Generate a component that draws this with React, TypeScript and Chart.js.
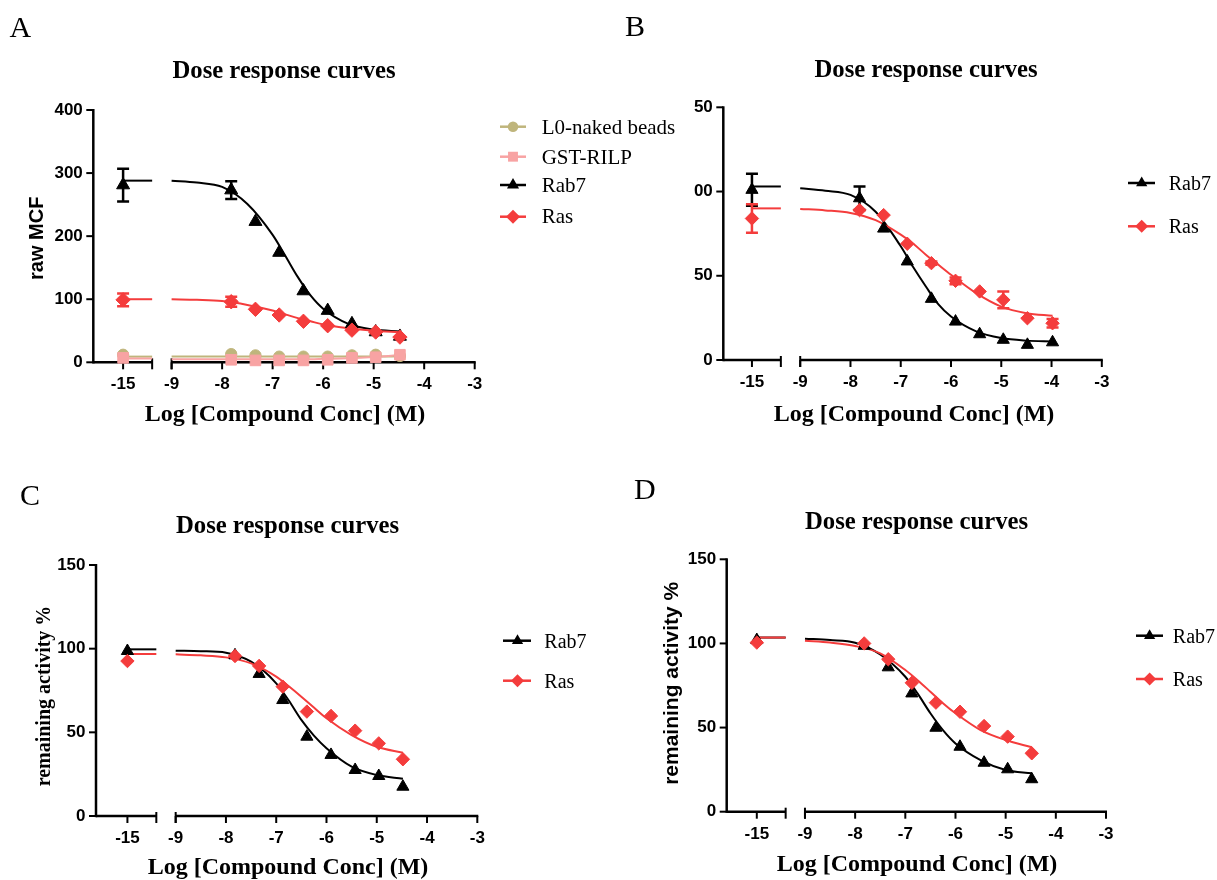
import React, { useEffect, useRef } from 'react';
import { Chart, registerables } from 'chart.js';

Chart.register(...registerables);

const W = 1217;
const H = 880;
const SERIF = '"Liberation Serif", "Times New Roman", serif';
const SANS = '"Liberation Sans", Arial, sans-serif';

const RED = '#f43c3c';
const BLACK = '#000000';
const OLIVE = '#bfb57c';
const PINK = '#f8a3a3';

// ---- shared axis data ----
const X_TICKS = [-15, -9, -8, -7, -6, -5, -4, -3];
const BREAK_POS = -9.96; // where the "-15" control sits on the broken axis
const SEG_END = -9.385; // end of the first axis segment

// log [compound] (M); -15 = no compound control
const X_LOG_9 = [-15, -7.82, -7.34, -6.87, -6.39, -5.91, -5.43, -4.96, -4.48];
const X_LOG_10 = [-15, -7.82, -7.34, -6.87, -6.39, -5.91, -5.43, -4.96, -4.48, -3.98];
const FIT_X = [-9, -8.5, -8, -7.5, -7, -6.75, -6.5, -6.25, -6, -5.5, -5, -4.48];
const FIT_X_B = [-9, -8.5, -8, -7.5, -7, -6.75, -6.5, -6.25, -6, -5.5, -5, -4.5, -3.98];

// ---- Panel A : raw MCF ----
const L0_A = [12, 13, 11, 9, 9, 9, 11, 12, 10];
const GST_A = [7, 4, 3, 3, 3, 4, 7, 8, 12];
const RAB7_A = [281, 273, 223, 174, 113, 82, 61, 48, 41];
const RAB7_A_ERR = [26, 14, 0, 0, 0, 0, 0, 0, 0];
const RAS_A = [99, 96, 84, 75, 65, 58, 51, 48, 40];
const RAS_A_ERR = [10, 8, 0, 0, 0, 0, 0, 0, 0];
const L0_FIT_A = [9, 9, 9, 9, 9, 9, 9, 9, 9, 9, 9, 9.5];
const GST_FIT_A = [5, 5, 5, 5, 5, 5, 5, 5, 5.5, 6.5, 8.5, 11.5];
const RAB7_FIT_A = [288, 285, 278, 251, 202, 169, 135, 106, 85, 61, 52, 49];
const RAS_FIT_A = [100, 99, 97, 91, 82, 76, 70, 65, 60, 54, 50, 47.5];
const FLAT_A = { l0: 9, gst: 6, rab7: 288, ras: 100 };

// ---- Panel B ----
const RAB7_B = [101, 96, 78, 58.5, 36.3, 22.8, 15.3, 12, 9, 10.5];
const RAB7_B_ERR = [9.5, 7, 0, 0, 0, 0, 0, 0, 0, 0];
const RAS_B = [84, 89, 86, 69, 57.5, 47, 40.7, 35.7, 24.8, 21.8];
const RAS_B_ERR = [8.5, 0, 0, 0, 1, 2, 0, 5, 0, 2.5];
const RAB7_FIT_B = [102, 100.5, 98, 88, 67.5, 55, 43.6, 33, 25.8, 17, 13, 11.5, 11];
const RAS_FIT_B = [89.7, 88.8, 87.3, 83, 74.4, 69, 62.5, 56.5, 50.6, 39.7, 31.7, 27.8, 26.2];
const FLAT_B = { rab7: 103, ras: 90 };
const Y_LABELS_B = ['0', '50', '00', '50'];

// ---- Panel C ----
const RAB7_C = [98.6, 96, 84.9, 69.3, 47.4, 36.5, 27.5, 23.9, 17.5];
const RAS_C = [92.6, 95.6, 89.7, 77.3, 62.4, 59.8, 51, 43.4, 33.9];
const RAB7_FIT_C = [98.8, 98.5, 97.6, 92.2, 79.3, 69, 57.4, 48, 40.5, 29.5, 24.5, 22.3];
const RAS_FIT_C = [96.6, 96, 94.8, 91.2, 83.3, 77.5, 71.3, 64.8, 58.4, 48.4, 41.4, 37.8];
const FLAT_C = { rab7: 99.6, ras: 96.8 };

// ---- Panel D ----
const RAB7_D = [102, 98.6, 85.8, 70.3, 49.9, 38.6, 29.1, 25.2, 19.3];
const RAS_D = [100.5, 100, 90.6, 76.6, 64.8, 59.4, 50.9, 44.6, 34.7];
const RAB7_FIT_D = [102.8, 102, 100.4, 93.4, 80.2, 70, 58.5, 48.5, 40.6, 30.7, 24.8, 22.8];
const RAS_FIT_D = [101.6, 100.5, 98.5, 94.1, 84.2, 78, 71.3, 64.5, 58.5, 48.5, 42.6, 38.3];
const FLAT_D = { rab7: 103.5, ras: 103.5 };

const TITLE = 'Dose response curves';
const X_TITLE = 'Log [Compound Conc] (M)';

const toAxis = (x: number) => (x === -15 ? BREAK_POS : x);

type Marker = 'triangle' | 'rectRot' | 'circle' | 'rect';
interface Series {
  label: string;
  color: string;
  marker: Marker;
  x: number[];
  y: number[];
  err?: number[];
  fitX: number[];
  fit: number[];
  flat: number;
}
interface Panel {
  letter: string;
  letterPos: [number, number];
  axisX: number;
  right: number;
  top: number;
  bottom: number;
  xMin: number;
  yMax: number;
  yStep: number;
  yTickLabels?: string[];
  titlePos: [number, number];
  xTitlePos: [number, number];
  yTitle?: { text: string; x: number; y: number; font: string };
  legend: { x1: number; x2: number; mx: number; tx: number; rows: number[]; baselines: number[]; font: string };
  markerR: number;
  series: Series[];
}

const PANELS: Panel[] = [
  {
    letter: 'A', letterPos: [9.6, 36.6], axisX: 93.3, right: 474.7, top: 110, bottom: 362.3,
    xMin: -10.55, yMax: 400, yStep: 100,
    titlePos: [284, 78], xTitlePos: [285, 420.6],
    yTitle: { text: 'raw MCF', x: 43.3, y: 238.3, font: `bold 20px ${SANS}` },
    legend: { x1: 500, x2: 526, mx: 513, tx: 541.7, rows: [126.7, 156.7, 185, 216.7], baselines: [134, 164, 191.7, 223.3], font: `21px ${SERIF}` },
    markerR: 7.5,
    series: [
      { label: 'L0-naked beads', color: OLIVE, marker: 'circle', x: X_LOG_9, y: L0_A, fitX: FIT_X, fit: L0_FIT_A, flat: FLAT_A.l0 },
      { label: 'GST-RILP', color: PINK, marker: 'rect', x: X_LOG_9, y: GST_A, fitX: FIT_X, fit: GST_FIT_A, flat: FLAT_A.gst },
      { label: 'Rab7', color: BLACK, marker: 'triangle', x: X_LOG_9, y: RAB7_A, err: RAB7_A_ERR, fitX: FIT_X, fit: RAB7_FIT_A, flat: FLAT_A.rab7 },
      { label: 'Ras', color: RED, marker: 'rectRot', x: X_LOG_9, y: RAS_A, err: RAS_A_ERR, fitX: FIT_X, fit: RAS_FIT_A, flat: FLAT_A.ras },
    ],
  },
  {
    letter: 'B', letterPos: [625, 36], axisX: 723.3, right: 1101.8, top: 107.3, bottom: 360,
    xMin: -10.53, yMax: 150, yStep: 50, yTickLabels: Y_LABELS_B,
    titlePos: [926, 77], xTitlePos: [914, 421],
    legend: { x1: 1128, x2: 1155, mx: 1141.7, tx: 1168.7, rows: [183, 226.3], baselines: [190, 233.3], font: `20px ${SERIF}` },
    markerR: 7,
    series: [
      { label: 'Rab7', color: BLACK, marker: 'triangle', x: X_LOG_10, y: RAB7_B, err: RAB7_B_ERR, fitX: FIT_X_B, fit: RAB7_FIT_B, flat: FLAT_B.rab7 },
      { label: 'Ras', color: RED, marker: 'rectRot', x: X_LOG_10, y: RAS_B, err: RAS_B_ERR, fitX: FIT_X_B, fit: RAS_FIT_B, flat: FLAT_B.ras },
    ],
  },
  {
    letter: 'C', letterPos: [20, 505], axisX: 96, right: 477.3, top: 565, bottom: 816,
    xMin: -10.585, yMax: 150, yStep: 50,
    titlePos: [287.5, 533], xTitlePos: [288, 874],
    yTitle: { text: 'remaining activity %', x: 49.5, y: 696, font: `bold 20px ${SERIF}` },
    legend: { x1: 503, x2: 531, mx: 517.5, tx: 544.3, rows: [640.7, 680.7], baselines: [647.7, 687.7], font: `20px ${SERIF}` },
    markerR: 7,
    series: [
      { label: 'Rab7', color: BLACK, marker: 'triangle', x: X_LOG_9, y: RAB7_C, fitX: FIT_X, fit: RAB7_FIT_C, flat: FLAT_C.rab7 },
      { label: 'Ras', color: RED, marker: 'rectRot', x: X_LOG_9, y: RAS_C, fitX: FIT_X, fit: RAS_FIT_C, flat: FLAT_C.ras },
    ],
  },
  {
    letter: 'D', letterPos: [634, 499], axisX: 726.7, right: 1106, top: 559.3, bottom: 811.7,
    xMin: -10.56, yMax: 150, yStep: 50,
    titlePos: [916.5, 529], xTitlePos: [917, 870.7],
    yTitle: { text: 'remaining activity %', x: 678, y: 683.3, font: `bold 21px ${SANS}` },
    legend: { x1: 1136, x2: 1163, mx: 1149.6, tx: 1172.8, rows: [635.7, 679], baselines: [642.7, 686], font: `20px ${SERIF}` },
    markerR: 7,
    series: [
      { label: 'Rab7', color: BLACK, marker: 'triangle', x: X_LOG_9, y: RAB7_D, fitX: FIT_X, fit: RAB7_FIT_D, flat: FLAT_D.rab7 },
      { label: 'Ras', color: RED, marker: 'rectRot', x: X_LOG_9, y: RAS_D, fitX: FIT_X, fit: RAS_FIT_D, flat: FLAT_D.ras },
    ],
  },
];

function drawMarker(ctx: CanvasRenderingContext2D, m: Marker, x: number, y: number, r: number, color: string) {
  ctx.save();
  ctx.fillStyle = color;
  ctx.beginPath();
  if (m === 'triangle') {
    ctx.moveTo(x, y - r);
    ctx.lineTo(x + 0.866 * r, y + 0.5 * r);
    ctx.lineTo(x - 0.866 * r, y + 0.5 * r);
  } else if (m === 'rectRot') {
    ctx.moveTo(x - r, y);
    ctx.lineTo(x, y - r);
    ctx.lineTo(x + r, y);
    ctx.lineTo(x, y + r);
  } else if (m === 'circle') {
    ctx.arc(x, y, r * 0.75, 0, Math.PI * 2);
  } else {
    const s = r * Math.SQRT1_2;
    ctx.rect(x - s, y - s, 2 * s, 2 * s);
  }
  ctx.closePath();
  ctx.fill();
  ctx.restore();
}

function makeChart(canvas: HTMLCanvasElement, p: Panel) {
  const N = p.series.length;
  const datasets: any[] = [];
  p.series.forEach((s, i) => {
    datasets.push({
      label: s.label,
      data: s.x.map((xv, k) => ({ x: toAxis(xv), y: s.y[k] })),
      showLine: false,
      pointStyle: s.marker,
      pointRadius: s.marker === 'circle' ? p.markerR * 0.75 : s.marker === 'rectRot' ? p.markerR - 0.3 : p.markerR,
      pointBackgroundColor: s.color,
      pointBorderColor: s.color,
      pointBorderWidth: 1,
      clip: false,
      order: N - i,
    });
    datasets.push({
      label: s.label + ' fit',
      data: s.fitX.map((xv, k) => ({ x: xv, y: s.fit[k] })),
      showLine: true,
      borderColor: s.color,
      borderWidth: 2,
      pointRadius: 0,
      cubicInterpolationMode: 'monotone',
      clip: false,
      order: 100 + N - i,
    });
    datasets.push({
      label: s.label + ' control',
      data: [
        { x: BREAK_POS, y: s.flat },
        { x: SEG_END, y: s.flat },
      ],
      showLine: true,
      borderColor: s.color,
      borderWidth: 2,
      pointRadius: 0,
      clip: false,
      order: 100 + N - i,
    });
  });

  const yTicks: number[] = [];
  for (let v = 0; v <= p.yMax + 1e-9; v += p.yStep) yTicks.push(v);

  const decor = {
    id: 'decor' + p.letter,
    beforeDatasetsDraw(chart: any) {
      const ctx: CanvasRenderingContext2D = chart.ctx;
      const xs = chart.scales.x;
      const ys = chart.scales.y;
      const xL = chart.chartArea.left;
      const y0 = ys.getPixelForValue(0);
      const yTop = ys.getPixelForValue(p.yMax);
      ctx.save();
      ctx.strokeStyle = '#000';
      ctx.lineCap = 'butt';
      ctx.lineWidth = 2.5;
      ctx.beginPath();
      ctx.moveTo(xL, yTop - 1);
      ctx.lineTo(xL, y0 + 1.2);
      ctx.stroke();
      ctx.lineWidth = 2;
      for (const v of yTicks) {
        const py = ys.getPixelForValue(v);
        ctx.beginPath();
        ctx.moveTo(xL - 7, py);
        ctx.lineTo(xL, py);
        ctx.stroke();
      }
      ctx.lineWidth = 2.5;
      const pEnd = xs.getPixelForValue(SEG_END);
      const p9 = xs.getPixelForValue(-9);
      const p3 = xs.getPixelForValue(-3);
      ctx.beginPath();
      ctx.moveTo(xL, y0);
      ctx.lineTo(pEnd, y0);
      ctx.moveTo(p9, y0);
      ctx.lineTo(p3 + 1, y0);
      ctx.stroke();
      ctx.lineWidth = 2;
      for (const t of X_TICKS) {
        const px = xs.getPixelForValue(toAxis(t));
        ctx.beginPath();
        ctx.moveTo(px, y0);
        ctx.lineTo(px, y0 + 7);
        ctx.stroke();
      }
      for (const px of [pEnd, p9]) {
        ctx.beginPath();
        ctx.moveTo(px, y0 - 4);
        ctx.lineTo(px, y0 + 7);
        ctx.stroke();
      }
      // error bars
      for (const s of p.series) {
        if (!s.err) continue;
        ctx.strokeStyle = s.color;
        ctx.lineWidth = 2.5;
        s.err.forEach((e, k) => {
          if (!e) return;
          const px = xs.getPixelForValue(toAxis(s.x[k]));
          const pt = ys.getPixelForValue(s.y[k] + e);
          const pb = ys.getPixelForValue(s.y[k] - e);
          ctx.beginPath();
          ctx.moveTo(px, pt);
          ctx.lineTo(px, pb);
          ctx.moveTo(px - 6, pt);
          ctx.lineTo(px + 6, pt);
          ctx.moveTo(px - 6, pb);
          ctx.lineTo(px + 6, pb);
          ctx.stroke();
        });
      }
      ctx.restore();
    },
    afterDraw(chart: any) {
      const ctx: CanvasRenderingContext2D = chart.ctx;
      ctx.save();
      ctx.fillStyle = '#000';
      // panel letter
      ctx.font = `30px ${SERIF}`;
      ctx.textAlign = 'left';
      ctx.textBaseline = 'alphabetic';
      ctx.fillText(p.letter, p.letterPos[0], p.letterPos[1]);
      // title
      ctx.font = `bold 24.7px ${SERIF}`;
      ctx.textAlign = 'center';
      ctx.fillText(TITLE, p.titlePos[0], p.titlePos[1]);
      // x title
      ctx.font = `bold 24px ${SERIF}`;
      ctx.fillText(X_TITLE, p.xTitlePos[0], p.xTitlePos[1]);
      // y title
      if (p.yTitle) {
        ctx.save();
        ctx.translate(p.yTitle.x, p.yTitle.y);
        ctx.rotate(-Math.PI / 2);
        ctx.font = p.yTitle.font;
        ctx.textAlign = 'center';
        ctx.fillText(p.yTitle.text, 0, 0);
        ctx.restore();
      }
      // legend
      const L = p.legend;
      p.series.forEach((s, i) => {
        const ry = L.rows[i];
        ctx.strokeStyle = s.color;
        ctx.lineWidth = 2.5;
        ctx.beginPath();
        ctx.moveTo(L.x1, ry);
        ctx.lineTo(L.x2, ry);
        ctx.stroke();
        drawMarker(ctx, s.marker, L.mx, ry, p.markerR - 0.5, s.color);
        ctx.fillStyle = '#000';
        ctx.font = L.font;
        ctx.textAlign = 'left';
        ctx.textBaseline = 'alphabetic';
        ctx.fillText(s.label, L.tx, L.baselines[i]);
      });
      ctx.restore();
    },
  };

  const tickFont = { family: SANS, size: 17, weight: 'bold' as const };

  return new Chart(canvas, {
    type: 'scatter',
    data: { datasets },
    options: {
      animation: false,
      responsive: false,
      devicePixelRatio: 1,
      events: [],
      layout: {
        autoPadding: false,
        padding: { left: 0, top: p.top, right: W - p.right, bottom: H - p.bottom - 40 },
      },
      plugins: {
        legend: { display: false },
        tooltip: { enabled: false },
        title: { display: false },
      },
      scales: {
        x: {
          type: 'linear',
          min: p.xMin,
          max: -3,
          grid: { display: false, drawTicks: false },
          border: { display: false },
          afterBuildTicks: (scale: any) => {
            scale.ticks = X_TICKS.map((t) => ({ value: toAxis(t) }));
          },
          afterFit: (scale: any) => {
            scale.height = 40;
            scale.paddingLeft = 0;
            scale.paddingRight = 0;
          },
          ticks: {
            autoSkip: false,
            maxRotation: 0,
            minRotation: 0,
            padding: 12,
            color: '#000',
            font: tickFont,
            callback: (_v: any, i: number) => String(X_TICKS[i]),
          },
        },
        y: {
          type: 'linear',
          min: 0,
          max: p.yMax,
          grid: { display: false, drawTicks: false },
          border: { display: false },
          afterBuildTicks: (scale: any) => {
            scale.ticks = yTicks.map((v) => ({ value: v }));
          },
          afterFit: (scale: any) => {
            scale.width = p.axisX;
            scale.paddingTop = 0;
            scale.paddingBottom = 0;
          },
          ticks: {
            padding: 10.5,
            color: '#000',
            font: tickFont,
            callback: (v: any, i: number) => (p.yTickLabels ? p.yTickLabels[i] : String(v)),
          },
        },
      },
    } as any,
    plugins: [decor],
  });
}

export default function App() {
  const r0 = useRef<HTMLCanvasElement>(null);
  const r1 = useRef<HTMLCanvasElement>(null);
  const r2 = useRef<HTMLCanvasElement>(null);
  const r3 = useRef<HTMLCanvasElement>(null);
  const refs = [r0, r1, r2, r3];

  useEffect(() => {
    const charts = PANELS.map((p, i) => makeChart(refs[i].current as HTMLCanvasElement, p));
    return () => charts.forEach((c) => c.destroy());
  }, []);

  return (
    <div style={{ position: 'absolute', left: 0, top: 0, width: W, height: H, background: '#fff', overflow: 'hidden' }}>
      {PANELS.map((p, i) => (
        <canvas
          key={p.letter}
          ref={refs[i]}
          width={W}
          height={H}
          style={{ position: 'absolute', left: 0, top: 0, width: W, height: H }}
        />
      ))}
    </div>
  );
}
